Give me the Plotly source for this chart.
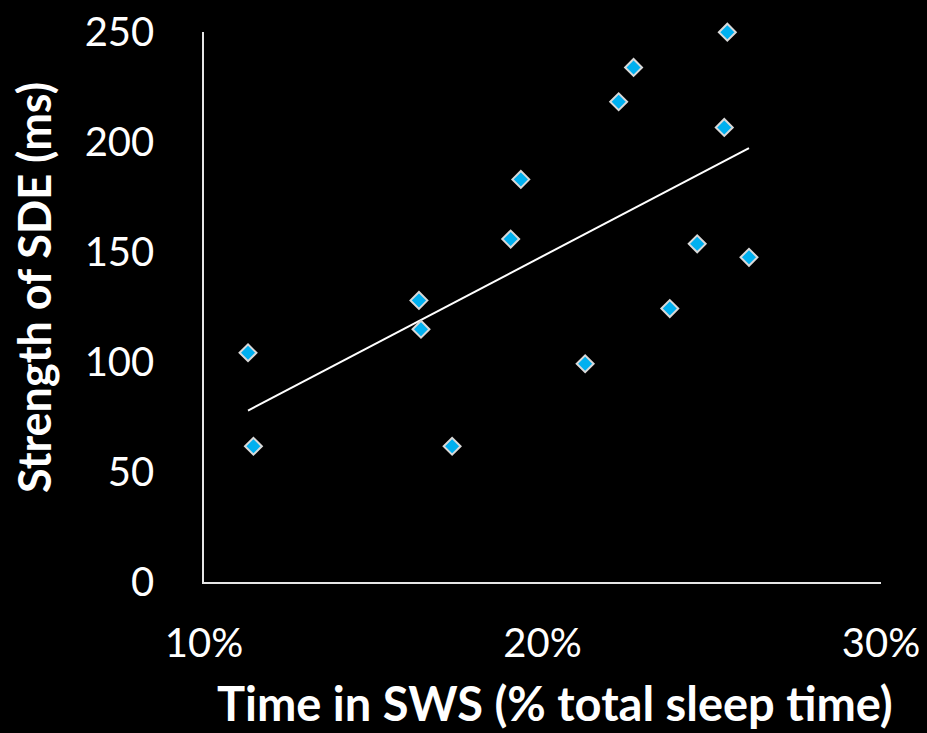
import numpy as np
import plotly.graph_objects as go

# Data (fraction of total sleep time, SDE strength in ms)
sws_time = [0.1130, 0.1146, 0.1635, 0.1641, 0.1733, 0.1906, 0.1936, 0.2126,
            0.2225, 0.2269, 0.2376, 0.2457, 0.2546, 0.2537, 0.2610]
sde_strength = [104.2, 61.7, 128.0, 114.9, 61.7, 155.9, 183.0, 99.2,
                218.3, 233.9, 124.3, 153.7, 249.9, 206.6, 147.6]

x_ticks = [0.10, 0.20, 0.30]
y_ticks = [0, 50, 100, 150, 200, 250]

x_title = "Time in SWS (% total sleep time)"
y_title = "Strength of SDE (ms)"

# Linear trendline (least squares)
slope, intercept = np.polyfit(sws_time, sde_strength, 1)
trend_x = [min(sws_time), max(sws_time)]
trend_y = [slope * v + intercept for v in trend_x]

font_family = "Lato"

fig = go.Figure()
fig.add_trace(go.Scatter(
    x=trend_x, y=trend_y, mode="lines",
    line=dict(color="white", width=2), hoverinfo="skip", showlegend=False))
fig.add_trace(go.Scatter(
    x=sws_time, y=sde_strength, mode="markers", cliponaxis=False,
    marker=dict(symbol="diamond", size=13, color="#00B0F0",
                line=dict(color="#D9D9D9", width=2)),
    showlegend=False))

fig.update_layout(
    width=927, height=733,
    paper_bgcolor="black", plot_bgcolor="black",
    margin=dict(l=204, r=46, t=32, b=151),
    font=dict(family=font_family, color="white", size=40),
    showlegend=False,
    annotations=[
        dict(text="<b>" + x_title + "</b>", xref="paper", yref="paper",
             x=(555 - 204) / 677, y=-(703 - 582) / 550, xanchor="center", yanchor="middle",
             showarrow=False, font=dict(family=font_family, size=47, color="white")),
        dict(text="<b>" + y_title + "</b>", xref="paper", yref="paper",
             x=-(204 - 34) / 677, y=(582 - 287) / 550, xanchor="center", yanchor="middle",
             textangle=-90, showarrow=False,
             font=dict(family=font_family, size=45, color="white")),
    ],
)
fig.update_xaxes(
    range=[0.10, 0.30], tickvals=x_ticks, tickformat=".0%", automargin=False,
    showgrid=False, zeroline=False, showline=True, linecolor="#E6E6E6", linewidth=1.5,
    ticks="", ticklabelstandoff=25,
    tickfont=dict(family=font_family, size=40, color="white"),
)
fig.update_yaxes(
    range=[0, 250], tickvals=y_ticks, automargin=False,
    showgrid=False, zeroline=False, showline=True, linecolor="#E6E6E6", linewidth=1.5,
    ticks="", ticklabelstandoff=40,
    tickfont=dict(family=font_family, size=40, color="white"),
)

fig.write_html("out.html")
